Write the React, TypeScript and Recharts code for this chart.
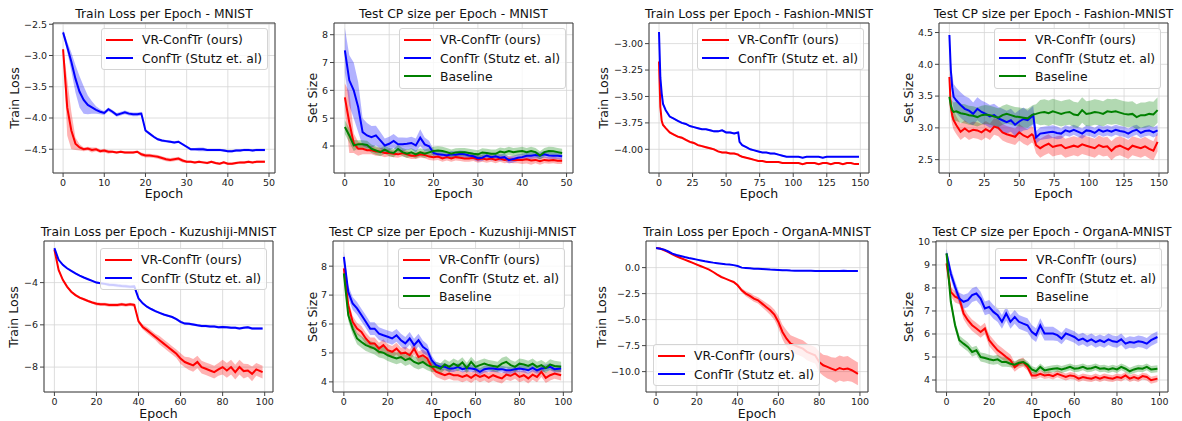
import React from 'react';
import {
  ComposedChart,
  Line,
  Area,
  XAxis,
  YAxis,
  CartesianGrid,
  ReferenceArea,
} from 'recharts';

const FONT = '"DejaVu Sans", sans-serif';
const RED = '#ff0000';
const BLUE = '#0000ff';
const GREEN = '#008000';

const LBL_VR = 'VR-ConfTr (ours)';
const LBL_CT = 'ConfTr (Stutz et. al)';
const LBL_BL = 'Baseline';

// epochs sampled per panel
const EPOCHS_50 = Array.from({ length: 50 }, (_, i) => i);
const EPOCHS_150 = [0, 1, 2, 3, 5, 8, 11, 14, 17, 20, 23, 26, 29, 32, 35, 38, 41, 44, 47, 50, 53, 56, 59, 60, 62, 65, 68, 71, 74, 77, 80, 83, 86, 89, 92, 95, 98, 101, 104, 107, 110, 113, 116, 119, 122, 125, 128, 131, 134, 137, 140, 143, 146, 149];
const EPOCHS_100 = [0, 2, 4, 6, 8, 10, 12, 14, 16, 18, 20, 22, 24, 26, 28, 30, 32, 34, 36, 38, 40, 42, 44, 46, 48, 50, 52, 54, 56, 58, 60, 62, 64, 66, 68, 70, 72, 74, 76, 78, 80, 82, 84, 86, 88, 90, 92, 94, 96, 99];

// --- MNIST train loss
const mnistLossVR = [-2.90, -3.83, -4.20, -4.41, -4.47, -4.50, -4.49, -4.51, -4.50, -4.53, -4.52, -4.54, -4.54, -4.55, -4.54, -4.55, -4.55, -4.55, -4.54, -4.58, -4.60, -4.60, -4.61, -4.62, -4.64, -4.66, -4.67, -4.66, -4.65, -4.68, -4.70, -4.70, -4.71, -4.70, -4.71, -4.72, -4.70, -4.72, -4.73, -4.71, -4.73, -4.73, -4.72, -4.71, -4.71, -4.70, -4.71, -4.70, -4.70, -4.70];
const mnistLossVRSd = [0.02, 0.45, 0.3, 0.1, 0.05, 0.03, 0.03, 0.04, 0.03, 0.03, 0.03, 0.03, 0.02, 0.02, 0.02, 0.02, 0.02, 0.02, 0.02, 0.03, 0.03, 0.03, 0.03, 0.03, 0.03, 0.03, 0.03, 0.03, 0.03, 0.03, 0.02, 0.02, 0.02, 0.02, 0.02, 0.02, 0.02, 0.02, 0.02, 0.02, 0.02, 0.02, 0.02, 0.02, 0.02, 0.02, 0.02, 0.02, 0.02, 0.02];
const mnistLossCT = [-2.63, -2.86, -3.10, -3.37, -3.58, -3.71, -3.79, -3.83, -3.87, -3.90, -3.92, -3.86, -3.90, -3.95, -3.93, -3.91, -3.93, -3.94, -3.94, -3.93, -4.20, -4.25, -4.30, -4.34, -4.36, -4.37, -4.38, -4.39, -4.38, -4.42, -4.46, -4.50, -4.50, -4.50, -4.50, -4.51, -4.51, -4.51, -4.51, -4.52, -4.53, -4.53, -4.52, -4.52, -4.51, -4.51, -4.52, -4.51, -4.51, -4.51];
const mnistLossCTSd = [0.04, 0.08, 0.15, 0.22, 0.25, 0.22, 0.15, 0.1, 0.06, 0.04, 0.03, 0.03, 0.03, 0.03, 0.03, 0.03, 0.03, 0.03, 0.03, 0.03, 0.02, 0.02, 0.02, 0.02, 0.02, 0.02, 0.02, 0.02, 0.02, 0.02, 0.02, 0.02, 0.02, 0.03, 0.03, 0.02, 0.02, 0.02, 0.02, 0.02, 0.02, 0.02, 0.02, 0.02, 0.02, 0.02, 0.02, 0.02, 0.02, 0.02];

// --- MNIST test CP size
const mnistSizeVR = [5.75, 4.85, 4.10, 3.90, 3.90, 3.85, 3.85, 3.80, 3.80, 3.75, 3.75, 3.72, 3.70, 3.75, 3.70, 3.65, 3.65, 3.70, 3.68, 3.62, 3.60, 3.62, 3.55, 3.60, 3.55, 3.60, 3.58, 3.55, 3.55, 3.58, 3.52, 3.55, 3.52, 3.55, 3.50, 3.55, 3.50, 3.52, 3.50, 3.50, 3.50, 3.52, 3.48, 3.50, 3.45, 3.50, 3.48, 3.50, 3.47, 3.47];
const mnistSizeVRSd = [0.5, 1.1, 0.35, 0.25, 0.2, 0.15, 0.15, 0.15, 0.15, 0.15, 0.12, 0.12, 0.12, 0.12, 0.12, 0.12, 0.12, 0.12, 0.12, 0.12, 0.12, 0.12, 0.12, 0.12, 0.12, 0.12, 0.12, 0.12, 0.12, 0.12, 0.12, 0.12, 0.12, 0.12, 0.12, 0.12, 0.12, 0.12, 0.12, 0.12, 0.15, 0.15, 0.15, 0.12, 0.12, 0.12, 0.12, 0.12, 0.12, 0.12];
const mnistSizeCT = [7.44, 6.36, 6.00, 5.40, 4.50, 4.38, 4.32, 4.38, 4.20, 4.02, 4.08, 4.18, 4.06, 4.06, 4.08, 4.11, 4.02, 4.30, 4.06, 3.99, 3.75, 3.70, 3.69, 3.66, 3.70, 3.69, 3.72, 3.70, 3.66, 3.63, 3.56, 3.58, 3.66, 3.60, 3.63, 3.58, 3.60, 3.49, 3.53, 3.58, 3.60, 3.65, 3.65, 3.68, 3.65, 3.70, 3.66, 3.65, 3.65, 3.63];
const mnistSizeCTSd = [0.8, 0.9, 1.0, 0.9, 0.5, 0.45, 0.4, 0.35, 0.3, 0.25, 0.25, 0.25, 0.25, 0.25, 0.22, 0.22, 0.25, 0.3, 0.25, 0.2, 0.12, 0.12, 0.12, 0.12, 0.12, 0.12, 0.12, 0.12, 0.12, 0.12, 0.12, 0.12, 0.12, 0.12, 0.12, 0.12, 0.12, 0.12, 0.12, 0.12, 0.12, 0.12, 0.12, 0.12, 0.12, 0.12, 0.12, 0.12, 0.12, 0.12];
const mnistSizeBL = [4.68, 4.38, 4.02, 4.06, 4.06, 4.04, 3.90, 3.84, 3.78, 3.87, 3.78, 3.75, 3.89, 3.78, 3.72, 3.77, 3.70, 3.77, 3.72, 3.77, 3.82, 3.84, 3.82, 3.78, 3.72, 3.77, 3.78, 3.78, 3.75, 3.72, 3.70, 3.77, 3.75, 3.72, 3.72, 3.80, 3.77, 3.82, 3.78, 3.80, 3.82, 3.78, 3.82, 3.78, 3.66, 3.78, 3.82, 3.81, 3.78, 3.75];
const mnistSizeBLSd = [0.25, 0.25, 0.2, 0.15, 0.15, 0.15, 0.15, 0.15, 0.15, 0.15, 0.15, 0.15, 0.15, 0.15, 0.15, 0.15, 0.15, 0.15, 0.15, 0.15, 0.15, 0.15, 0.15, 0.15, 0.15, 0.15, 0.15, 0.15, 0.15, 0.15, 0.15, 0.15, 0.15, 0.15, 0.15, 0.15, 0.15, 0.15, 0.15, 0.15, 0.15, 0.15, 0.15, 0.15, 0.15, 0.15, 0.15, 0.15, 0.15, 0.15];

// --- Fashion-MNIST train loss
const fashionLossVR = [-3.17, -3.60, -3.73, -3.77, -3.80, -3.84, -3.86, -3.88, -3.89, -3.91, -3.93, -3.94, -3.96, -3.97, -3.98, -3.99, -4.00, -4.02, -4.03, -4.03, -4.04, -4.04, -4.05, -4.06, -4.07, -4.08, -4.09, -4.10, -4.11, -4.11, -4.12, -4.12, -4.12, -4.12, -4.13, -4.13, -4.13, -4.13, -4.13, -4.14, -4.13, -4.13, -4.13, -4.14, -4.13, -4.13, -4.14, -4.13, -4.13, -4.14, -4.13, -4.13, -4.14, -4.14];
const fashionLossVRSd = [0.005, 0.01, 0.01, 0.01, 0.01, 0.01, 0.01, 0.01, 0.012, 0.012, 0.012, 0.012, 0.01, 0.01, 0.01, 0.01, 0.01, 0.01, 0.01, 0.01, 0.01, 0.01, 0.01, 0.01, 0.01, 0.008, 0.008, 0.008, 0.008, 0.008, 0.008, 0.008, 0.008, 0.008, 0.008, 0.008, 0.008, 0.008, 0.008, 0.008, 0.008, 0.008, 0.008, 0.008, 0.008, 0.008, 0.008, 0.008, 0.008, 0.008, 0.008, 0.008, 0.008, 0.008];
const fashionLossCT = [-2.89, -3.32, -3.47, -3.57, -3.63, -3.69, -3.71, -3.73, -3.75, -3.76, -3.78, -3.79, -3.80, -3.81, -3.81, -3.82, -3.83, -3.83, -3.82, -3.84, -3.84, -3.85, -3.84, -3.93, -3.96, -3.98, -4.00, -4.01, -4.02, -4.03, -4.03, -4.04, -4.04, -4.05, -4.06, -4.07, -4.07, -4.07, -4.07, -4.08, -4.07, -4.07, -4.07, -4.07, -4.08, -4.07, -4.07, -4.07, -4.07, -4.07, -4.07, -4.07, -4.07, -4.07];
const fashionLossCTSd = [0.005, 0.008, 0.008, 0.008, 0.008, 0.008, 0.008, 0.008, 0.008, 0.008, 0.008, 0.008, 0.008, 0.008, 0.008, 0.01, 0.01, 0.01, 0.01, 0.01, 0.01, 0.01, 0.01, 0.01, 0.008, 0.008, 0.008, 0.008, 0.008, 0.008, 0.008, 0.008, 0.008, 0.008, 0.008, 0.006, 0.006, 0.006, 0.006, 0.006, 0.006, 0.006, 0.006, 0.006, 0.006, 0.006, 0.006, 0.006, 0.006, 0.006, 0.006, 0.006, 0.006, 0.006];

// --- Fashion-MNIST test CP size
const fashionSizeVR = [3.80, 3.33, 3.20, 3.12, 3.04, 2.94, 2.99, 2.94, 2.97, 2.96, 2.93, 2.98, 2.94, 3.02, 3.00, 2.93, 2.90, 2.88, 2.86, 2.93, 2.88, 2.85, 2.90, 2.88, 2.73, 2.68, 2.72, 2.75, 2.70, 2.72, 2.73, 2.68, 2.70, 2.72, 2.70, 2.74, 2.72, 2.70, 2.68, 2.73, 2.70, 2.71, 2.64, 2.70, 2.72, 2.69, 2.66, 2.72, 2.70, 2.68, 2.71, 2.67, 2.64, 2.78];
const fashionSizeVRSd = [0.1, 0.15, 0.15, 0.15, 0.14, 0.13, 0.13, 0.13, 0.13, 0.13, 0.13, 0.13, 0.13, 0.13, 0.13, 0.13, 0.13, 0.13, 0.13, 0.13, 0.13, 0.13, 0.13, 0.13, 0.13, 0.15, 0.15, 0.15, 0.15, 0.15, 0.15, 0.15, 0.15, 0.15, 0.15, 0.15, 0.15, 0.15, 0.15, 0.15, 0.15, 0.15, 0.15, 0.15, 0.15, 0.15, 0.15, 0.15, 0.15, 0.15, 0.15, 0.15, 0.15, 0.15];
const fashionSizeCT = [4.46, 3.91, 3.64, 3.49, 3.43, 3.36, 3.30, 3.27, 3.22, 3.30, 3.25, 3.22, 3.18, 3.20, 3.15, 3.12, 3.09, 3.12, 3.05, 3.10, 3.14, 3.12, 3.18, 3.20, 2.85, 2.91, 2.92, 2.93, 2.94, 2.92, 2.91, 2.96, 2.94, 2.97, 2.94, 2.91, 2.96, 2.95, 2.92, 2.97, 2.94, 2.96, 2.94, 2.97, 2.95, 2.94, 2.91, 2.95, 2.97, 2.92, 2.95, 2.96, 2.93, 2.96];
const fashionSizeCTSd = [0.05, 0.15, 0.2, 0.2, 0.2, 0.2, 0.2, 0.2, 0.18, 0.18, 0.18, 0.18, 0.18, 0.18, 0.18, 0.18, 0.18, 0.18, 0.18, 0.18, 0.18, 0.15, 0.15, 0.15, 0.1, 0.1, 0.1, 0.1, 0.1, 0.1, 0.08, 0.08, 0.08, 0.08, 0.08, 0.08, 0.08, 0.08, 0.08, 0.08, 0.08, 0.08, 0.08, 0.08, 0.08, 0.08, 0.08, 0.08, 0.08, 0.08, 0.08, 0.08, 0.08, 0.08];
const fashionSizeBL = [3.49, 3.35, 3.28, 3.25, 3.26, 3.23, 3.22, 3.20, 3.19, 3.17, 3.20, 3.21, 3.20, 3.18, 3.16, 3.20, 3.22, 3.20, 3.18, 3.17, 3.16, 3.15, 3.20, 3.21, 3.22, 3.24, 3.25, 3.23, 3.26, 3.24, 3.22, 3.24, 3.25, 3.21, 3.20, 3.28, 3.22, 3.23, 3.25, 3.24, 3.22, 3.26, 3.25, 3.26, 3.24, 3.22, 3.21, 3.22, 3.17, 3.20, 3.20, 3.22, 3.21, 3.28];
const fashionSizeBLSd = [0.05, 0.1, 0.15, 0.15, 0.15, 0.15, 0.15, 0.15, 0.15, 0.15, 0.15, 0.15, 0.15, 0.15, 0.15, 0.15, 0.15, 0.15, 0.15, 0.15, 0.15, 0.15, 0.15, 0.15, 0.15, 0.2, 0.2, 0.2, 0.2, 0.2, 0.2, 0.2, 0.2, 0.2, 0.2, 0.2, 0.2, 0.2, 0.2, 0.2, 0.2, 0.2, 0.2, 0.2, 0.2, 0.2, 0.2, 0.2, 0.2, 0.2, 0.2, 0.2, 0.2, 0.2];

// --- Kuzushiji-MNIST train loss
const kmnistLossVR = [-2.44, -3.40, -3.87, -4.19, -4.43, -4.59, -4.71, -4.79, -4.87, -4.94, -5.00, -5.03, -5.03, -5.06, -5.06, -5.06, -5.03, -5.06, -5.03, -5.06, -5.83, -6.10, -6.25, -6.41, -6.57, -6.73, -6.89, -7.05, -7.21, -7.37, -7.60, -7.76, -7.84, -7.92, -7.76, -8.00, -8.08, -8.16, -8.24, -8.11, -8.00, -8.16, -8.00, -8.24, -8.00, -8.19, -8.16, -8.32, -8.11, -8.24];
const kmnistLossVRSd = [0.03, 0.06, 0.06, 0.06, 0.06, 0.06, 0.06, 0.06, 0.06, 0.06, 0.08, 0.08, 0.08, 0.08, 0.08, 0.08, 0.08, 0.08, 0.08, 0.08, 0.1, 0.12, 0.15, 0.15, 0.15, 0.2, 0.2, 0.2, 0.2, 0.2, 0.25, 0.25, 0.3, 0.3, 0.3, 0.3, 0.3, 0.3, 0.3, 0.3, 0.35, 0.35, 0.35, 0.35, 0.35, 0.35, 0.3, 0.35, 0.3, 0.3];
const kmnistLossCT = [-2.37, -2.92, -3.16, -3.32, -3.44, -3.56, -3.67, -3.76, -3.84, -3.92, -4.00, -4.03, -4.06, -4.10, -4.11, -4.14, -4.16, -4.17, -4.20, -4.18, -4.75, -4.98, -5.14, -5.25, -5.35, -5.43, -5.51, -5.57, -5.63, -5.73, -5.86, -5.94, -5.95, -5.98, -6.02, -6.05, -6.05, -6.08, -6.08, -6.11, -6.10, -6.11, -6.14, -6.14, -6.17, -6.14, -6.12, -6.17, -6.17, -6.17];
const kmnistLossCTSd = [0.03, 0.04, 0.04, 0.04, 0.04, 0.04, 0.04, 0.04, 0.04, 0.04, 0.05, 0.05, 0.06, 0.08, 0.08, 0.08, 0.08, 0.08, 0.08, 0.08, 0.05, 0.05, 0.05, 0.05, 0.05, 0.05, 0.05, 0.05, 0.05, 0.05, 0.06, 0.06, 0.06, 0.06, 0.06, 0.06, 0.06, 0.06, 0.06, 0.06, 0.06, 0.06, 0.06, 0.06, 0.06, 0.06, 0.06, 0.06, 0.06, 0.06];

// --- Kuzushiji-MNIST test CP size
const kmnistSizeVR = [7.92, 6.65, 6.08, 5.84, 5.73, 5.50, 5.33, 5.33, 5.15, 5.27, 5.10, 5.04, 5.15, 4.98, 5.01, 4.92, 5.15, 4.86, 4.92, 4.81, 4.52, 4.35, 4.29, 4.23, 4.29, 4.23, 4.23, 4.17, 4.23, 4.14, 4.25, 4.17, 4.23, 4.14, 4.23, 4.17, 4.12, 4.25, 4.21, 4.29, 4.17, 4.23, 4.12, 4.25, 4.17, 4.35, 4.14, 4.23, 4.29, 4.23];
const kmnistSizeVRSd = [0.3, 0.2, 0.2, 0.2, 0.2, 0.2, 0.2, 0.2, 0.2, 0.2, 0.2, 0.2, 0.2, 0.2, 0.2, 0.2, 0.2, 0.2, 0.2, 0.2, 0.18, 0.18, 0.18, 0.18, 0.18, 0.18, 0.18, 0.18, 0.18, 0.18, 0.18, 0.18, 0.18, 0.18, 0.18, 0.18, 0.18, 0.18, 0.18, 0.18, 0.18, 0.18, 0.18, 0.18, 0.18, 0.18, 0.18, 0.18, 0.18, 0.18];
const kmnistSizeCT = [8.32, 7.11, 6.71, 6.54, 6.31, 6.08, 5.84, 5.84, 5.67, 5.61, 5.56, 5.50, 5.61, 5.44, 5.33, 5.50, 5.27, 5.44, 5.21, 5.10, 4.75, 4.58, 4.52, 4.52, 4.46, 4.46, 4.52, 4.44, 4.48, 4.46, 4.44, 4.35, 4.44, 4.46, 4.46, 4.44, 4.44, 4.40, 4.40, 4.44, 4.46, 4.44, 4.40, 4.48, 4.40, 4.46, 4.48, 4.52, 4.44, 4.46];
const kmnistSizeCTSd = [0.2, 0.22, 0.22, 0.22, 0.22, 0.22, 0.22, 0.22, 0.22, 0.22, 0.22, 0.22, 0.22, 0.22, 0.22, 0.22, 0.22, 0.22, 0.22, 0.2, 0.15, 0.12, 0.12, 0.12, 0.12, 0.12, 0.12, 0.12, 0.12, 0.12, 0.12, 0.12, 0.12, 0.12, 0.12, 0.12, 0.12, 0.12, 0.12, 0.12, 0.12, 0.12, 0.12, 0.12, 0.12, 0.12, 0.12, 0.12, 0.12, 0.12];
const kmnistSizeBL = [7.75, 6.31, 5.84, 5.50, 5.38, 5.27, 5.21, 5.15, 5.04, 5.01, 4.92, 4.86, 4.81, 4.86, 4.75, 4.81, 4.69, 4.63, 4.69, 4.58, 4.52, 4.52, 4.46, 4.60, 4.52, 4.63, 4.55, 4.67, 4.48, 4.69, 4.52, 4.58, 4.63, 4.58, 4.55, 4.52, 4.63, 4.69, 4.58, 4.52, 4.63, 4.60, 4.55, 4.63, 4.52, 4.58, 4.48, 4.60, 4.55, 4.52];
const kmnistSizeBLSd = [0.2, 0.2, 0.2, 0.2, 0.2, 0.2, 0.2, 0.2, 0.2, 0.2, 0.2, 0.2, 0.2, 0.2, 0.2, 0.2, 0.2, 0.2, 0.2, 0.18, 0.18, 0.18, 0.18, 0.18, 0.18, 0.18, 0.18, 0.18, 0.18, 0.18, 0.18, 0.18, 0.18, 0.18, 0.18, 0.18, 0.2, 0.2, 0.18, 0.18, 0.18, 0.18, 0.18, 0.18, 0.18, 0.18, 0.18, 0.18, 0.18, 0.18];

// --- OrganA-MNIST train loss
const organLossVR = [1.89, 1.83, 1.67, 1.50, 1.28, 1.09, 0.93, 0.77, 0.61, 0.45, 0.29, 0.13, -0.03, -0.19, -0.42, -0.67, -0.90, -1.06, -1.22, -1.38, -1.70, -2.18, -2.50, -2.72, -2.98, -3.14, -3.46, -3.78, -4.10, -4.52, -5.22, -6.19, -6.83, -7.31, -7.47, -7.63, -7.79, -8.10, -8.27, -8.43, -9.07, -9.39, -9.55, -9.71, -9.87, -9.65, -9.78, -9.71, -9.87, -10.22];
const organLossVRSd = [0.05, 0.05, 0.05, 0.05, 0.05, 0.05, 0.05, 0.05, 0.05, 0.05, 0.05, 0.05, 0.05, 0.05, 0.05, 0.05, 0.05, 0.05, 0.05, 0.08, 0.15, 0.2, 0.25, 0.3, 0.3, 0.3, 0.35, 0.4, 0.45, 0.5, 0.6, 0.7, 0.8, 0.8, 0.8, 0.8, 0.8, 0.8, 0.8, 0.8, 1.0, 1.0, 1.1, 1.1, 1.2, 1.2, 1.2, 1.2, 1.1, 1.1];
const organLossCT = [1.89, 1.82, 1.73, 1.55, 1.35, 1.22, 1.12, 1.02, 0.93, 0.85, 0.77, 0.69, 0.61, 0.55, 0.48, 0.43, 0.38, 0.33, 0.29, 0.24, 0.16, 0.00, -0.03, -0.06, -0.10, -0.12, -0.14, -0.16, -0.19, -0.21, -0.23, -0.25, -0.26, -0.28, -0.29, -0.30, -0.30, -0.31, -0.31, -0.32, -0.32, -0.32, -0.32, -0.32, -0.32, -0.32, -0.31, -0.32, -0.32, -0.32];
const organLossCTSd = [0.04, 0.04, 0.04, 0.04, 0.04, 0.04, 0.04, 0.04, 0.04, 0.04, 0.04, 0.04, 0.04, 0.04, 0.04, 0.04, 0.04, 0.04, 0.04, 0.04, 0.04, 0.04, 0.04, 0.04, 0.04, 0.04, 0.04, 0.04, 0.04, 0.04, 0.04, 0.04, 0.04, 0.04, 0.04, 0.04, 0.04, 0.04, 0.04, 0.04, 0.04, 0.04, 0.04, 0.04, 0.04, 0.04, 0.04, 0.04, 0.04, 0.04];

// --- OrganA-MNIST test CP size
const organSizeVR = [9.07, 7.83, 7.62, 7.54, 6.89, 6.60, 6.38, 6.24, 6.09, 6.24, 5.73, 5.51, 5.29, 5.15, 5.00, 4.86, 4.56, 4.71, 4.78, 4.56, 4.20, 4.20, 4.27, 4.20, 4.23, 4.17, 4.27, 4.20, 4.13, 4.20, 4.17, 4.06, 4.13, 4.09, 4.06, 4.13, 4.06, 4.13, 4.09, 4.06, 4.13, 4.09, 4.20, 4.06, 4.13, 4.06, 4.17, 4.13, 3.99, 4.06];
const organSizeVRSd = [0.15, 0.2, 0.25, 0.25, 0.25, 0.25, 0.25, 0.25, 0.25, 0.25, 0.25, 0.25, 0.25, 0.25, 0.25, 0.25, 0.2, 0.2, 0.2, 0.15, 0.15, 0.15, 0.15, 0.15, 0.15, 0.15, 0.15, 0.15, 0.15, 0.15, 0.15, 0.15, 0.15, 0.15, 0.15, 0.15, 0.15, 0.15, 0.15, 0.15, 0.15, 0.15, 0.15, 0.15, 0.15, 0.15, 0.15, 0.15, 0.15, 0.15];
const organSizeCT = [9.50, 8.63, 8.05, 7.54, 7.40, 7.47, 7.69, 7.76, 7.54, 7.11, 7.18, 6.96, 6.82, 6.53, 6.89, 6.53, 6.74, 6.53, 6.45, 6.38, 6.09, 5.95, 6.38, 6.02, 6.02, 6.02, 5.95, 5.80, 6.02, 5.95, 5.87, 5.73, 5.80, 5.68, 5.77, 5.65, 5.73, 5.65, 5.77, 5.68, 5.65, 5.77, 5.58, 5.65, 5.62, 5.68, 5.65, 5.58, 5.73, 5.87];
const organSizeCTSd = [0.2, 0.25, 0.25, 0.25, 0.3, 0.3, 0.3, 0.3, 0.3, 0.3, 0.3, 0.3, 0.3, 0.3, 0.3, 0.3, 0.3, 0.3, 0.3, 0.3, 0.3, 0.3, 0.3, 0.3, 0.3, 0.3, 0.25, 0.25, 0.25, 0.25, 0.25, 0.25, 0.25, 0.25, 0.25, 0.25, 0.25, 0.25, 0.25, 0.25, 0.25, 0.25, 0.25, 0.25, 0.25, 0.25, 0.25, 0.25, 0.25, 0.25];
const organSizeBL = [9.50, 7.40, 6.38, 5.73, 5.58, 5.44, 5.22, 5.29, 5.00, 4.96, 4.90, 4.86, 4.90, 4.78, 4.78, 4.71, 4.67, 4.75, 4.78, 4.67, 4.46, 4.38, 4.57, 4.42, 4.46, 4.49, 4.51, 4.46, 4.51, 4.57, 4.49, 4.51, 4.57, 4.49, 4.51, 4.57, 4.49, 4.51, 4.46, 4.51, 4.46, 4.57, 4.49, 4.38, 4.46, 4.51, 4.49, 4.57, 4.46, 4.49];
const organSizeBLSd = [0.1, 0.2, 0.2, 0.2, 0.2, 0.2, 0.2, 0.2, 0.2, 0.2, 0.2, 0.2, 0.2, 0.2, 0.2, 0.15, 0.15, 0.15, 0.15, 0.15, 0.15, 0.15, 0.15, 0.15, 0.15, 0.15, 0.15, 0.15, 0.15, 0.15, 0.15, 0.15, 0.15, 0.15, 0.15, 0.15, 0.15, 0.15, 0.15, 0.15, 0.15, 0.15, 0.15, 0.15, 0.15, 0.15, 0.15, 0.15, 0.15, 0.15];

// tick lists
const TICKS_X50 = [0, 10, 20, 30, 40, 50];
const TICKS_X150 = [0, 25, 50, 75, 100, 125, 150];
const TICKS_X100 = [0, 20, 40, 60, 80, 100];

type Series = { name: string; color: string; values: number[]; spread: number[] };
type Box = { x: number; y: number; w: number; h: number };
type PanelDef = {
  title: string;
  ylabel: string;
  epochs: number[];
  series: Series[];
  xDomain: [number, number];
  xTicks: number[];
  yDomain: [number, number];
  yTicks: number[];
  yDigits: number;
  box: Box;
  legend: { x: number; y: number };
  ylabelX: number;
  titleY: number;
  xlabelY: number;
};

const vr = (values: number[], spread: number[]): Series => ({ name: LBL_VR, color: RED, values, spread });
const ct = (values: number[], spread: number[]): Series => ({ name: LBL_CT, color: BLUE, values, spread });
const bl = (values: number[], spread: number[]): Series => ({ name: LBL_BL, color: GREEN, values, spread });

const PANELS: PanelDef[] = [
  {
    title: 'Train Loss per Epoch - MNIST', ylabel: 'Train Loss', epochs: EPOCHS_50,
    series: [vr(mnistLossVR, mnistLossVRSd), ct(mnistLossCT, mnistLossCTSd)],
    xDomain: [-2.45, 51.45], xTicks: TICKS_X50, yDomain: [-4.88, -2.48], yTicks: [-4.5, -4.0, -3.5, -3.0, -2.5], yDigits: 1,
    box: { x: 53, y: 23, w: 222, h: 150 }, legend: { x: 101, y: 28 }, ylabelX: 14, titleY: 14, xlabelY: 193,
  },
  {
    title: 'Test CP size per Epoch - MNIST', ylabel: 'Set Size', epochs: EPOCHS_50,
    series: [vr(mnistSizeVR, mnistSizeVRSd), ct(mnistSizeCT, mnistSizeCTSd), bl(mnistSizeBL, mnistSizeBLSd)],
    xDomain: [-2.45, 51.45], xTicks: TICKS_X50, yDomain: [3.03, 8.42], yTicks: [4, 5, 6, 7, 8], yDigits: 0,
    box: { x: 334, y: 23, w: 239, h: 150 }, legend: { x: 399, y: 28 }, ylabelX: 312, titleY: 14, xlabelY: 193,
  },
  {
    title: 'Train Loss per Epoch - Fashion-MNIST', ylabel: 'Train Loss', epochs: EPOCHS_150,
    series: [vr(fashionLossVR, fashionLossVRSd), ct(fashionLossCT, fashionLossCTSd)],
    xDomain: [-7.45, 156.45], xTicks: TICKS_X150, yDomain: [-4.224, -2.805], yTicks: [-4.0, -3.75, -3.5, -3.25, -3.0], yDigits: 2,
    box: { x: 649, y: 23, w: 220, h: 150 }, legend: { x: 697, y: 28 }, ylabelX: 603, titleY: 14, xlabelY: 193,
  },
  {
    title: 'Test CP size per Epoch - Fashion-MNIST', ylabel: 'Set Size', epochs: EPOCHS_150,
    series: [vr(fashionSizeVR, fashionSizeVRSd), ct(fashionSizeCT, fashionSizeCTSd), bl(fashionSizeBL, fashionSizeBLSd)],
    xDomain: [-7.45, 156.45], xTicks: TICKS_X150, yDomain: [2.29, 4.65], yTicks: [2.5, 3.0, 3.5, 4.0, 4.5], yDigits: 1,
    box: { x: 939, y: 23, w: 229, h: 150 }, legend: { x: 994, y: 28 }, ylabelX: 908, titleY: 14, xlabelY: 193,
  },
  {
    title: 'Train Loss per Epoch - Kuzushiji-MNIST', ylabel: 'Train Loss', epochs: EPOCHS_100,
    series: [vr(kmnistLossVR, kmnistLossVRSd), ct(kmnistLossCT, kmnistLossCTSd)],
    xDomain: [-4.95, 103.95], xTicks: TICKS_X100, yDomain: [-9.18, -2.03], yTicks: [-8, -6, -4], yDigits: 0,
    box: { x: 44, y: 241, w: 229, h: 151 }, legend: { x: 100, y: 248 }, ylabelX: 13, titleY: 232, xlabelY: 413,
  },
  {
    title: 'Test CP size per Epoch - Kuzushiji-MNIST', ylabel: 'Set Size', epochs: EPOCHS_100,
    series: [vr(kmnistSizeVR, kmnistSizeVRSd), ct(kmnistSizeCT, kmnistSizeCTSd), bl(kmnistSizeBL, kmnistSizeBLSd)],
    xDomain: [-4.95, 103.95], xTicks: TICKS_X100, yDomain: [3.65, 8.87], yTicks: [4, 5, 6, 7, 8], yDigits: 0,
    box: { x: 333, y: 241, w: 239, h: 151 }, legend: { x: 398, y: 248 }, ylabelX: 312, titleY: 232, xlabelY: 413,
  },
  {
    title: 'Train Loss per Epoch - OrganA-MNIST', ylabel: 'Train Loss', epochs: EPOCHS_100,
    series: [vr(organLossVR, organLossVRSd), ct(organLossCT, organLossCTSd)],
    xDomain: [-4.95, 103.95], xTicks: TICKS_X100, yDomain: [-11.96, 2.56], yTicks: [-10, -7.5, -5, -2.5, 0], yDigits: 1,
    box: { x: 646, y: 241, w: 222, h: 151 }, legend: { x: 653, y: 344 }, ylabelX: 601, titleY: 232, xlabelY: 413,
  },
  {
    title: 'Test CP size per Epoch - OrganA-MNIST', ylabel: 'Set Size', epochs: EPOCHS_100,
    series: [vr(organSizeVR, organSizeVRSd), ct(organSizeCT, organSizeCTSd), bl(organSizeBL, organSizeBLSd)],
    xDomain: [-4.95, 103.95], xTicks: TICKS_X100, yDomain: [3.48, 10.04], yTicks: [4, 5, 6, 7, 8, 9, 10], yDigits: 0,
    box: { x: 936, y: 241, w: 232, h: 151 }, legend: { x: 995, y: 248 }, ylabelX: 908, titleY: 232, xlabelY: 413,
  },
];

const fmt = (digits: number) => (v: number) => {
  const s = Math.abs(v).toFixed(digits);
  return v < -1e-9 ? '\u2212' + s : s;
};

const PAD_L = 60;
const PAD_T = 10;

function Panel({ p }: { p: PanelDef }) {
  const data = p.epochs.map((e, i) => {
    const row: Record<string, unknown> = { epoch: e };
    p.series.forEach((s, k) => {
      row['v' + k] = s.values[i];
      row['b' + k] = [s.values[i] - s.spread[i], s.values[i] + s.spread[i]];
    });
    return row;
  });
  const { box } = p;
  const tickStyle = { fontSize: 9.5, fill: '#222', fontFamily: FONT };

  return (
    <>
      <div style={{ position: 'absolute', left: box.x - PAD_L, top: box.y - PAD_T }}>
        <ComposedChart
          width={box.w + PAD_L + 10}
          height={box.h + PAD_T + 30}
          data={data}
          margin={{ top: PAD_T, right: 10, left: 0, bottom: 0 }}
        >
          <CartesianGrid stroke="#d6d6d6" strokeWidth={0.8} />
          <XAxis
            type="number"
            dataKey="epoch"
            domain={p.xDomain}
            ticks={p.xTicks}
            interval={0}
            allowDataOverflow
            axisLine={false}
            tickLine={{ stroke: '#444' }}
            tickSize={4}
            tickMargin={2}
            tick={tickStyle}
            height={30}
          />
          <YAxis
            type="number"
            domain={p.yDomain}
            ticks={p.yTicks}
            interval={0}
            allowDataOverflow
            axisLine={false}
            tickLine={{ stroke: '#444' }}
            tickSize={4}
            tickMargin={2}
            tick={tickStyle}
            tickFormatter={fmt(p.yDigits)}
            width={PAD_L}
          />
          {p.series.map((s, k) => [
            <Area
              key={'b' + k}
              type="linear"
              dataKey={'b' + k}
              stroke="none"
              fill={s.color}
              fillOpacity={0.3}
              isAnimationActive={false}
              dot={false}
              activeDot={false}
            />,
            <Line
              key={'v' + k}
              type="linear"
              dataKey={'v' + k}
              stroke={s.color}
              strokeWidth={2}
              dot={false}
              activeDot={false}
              isAnimationActive={false}
            />,
          ])}
          <ReferenceArea
            x1={p.xDomain[0]}
            x2={p.xDomain[1]}
            y1={p.yDomain[0]}
            y2={p.yDomain[1]}
            fill="none"
            fillOpacity={0}
            stroke="#3c3c3c"
            strokeWidth={1}
            ifOverflow="visible"
          />
        </ComposedChart>
      </div>

      {/* title */}
      <div
        style={{
          position: 'absolute',
          left: box.x + box.w / 2,
          top: p.titleY,
          transform: 'translate(-50%, -50%)',
          whiteSpace: 'nowrap',
          fontSize: 12.3,
          color: '#111',
          fontFamily: FONT,
        }}
      >
        {p.title}
      </div>

      {/* axis labels */}
      <div
        style={{
          position: 'absolute',
          left: box.x + box.w / 2,
          top: p.xlabelY,
          transform: 'translate(-50%, -50%)',
          whiteSpace: 'nowrap',
          fontSize: 12.5,
          color: '#111',
          fontFamily: FONT,
        }}
      >
        Epoch
      </div>
      <div
        style={{
          position: 'absolute',
          left: p.ylabelX,
          top: box.y + box.h / 2,
          transform: 'translate(-50%, -50%) rotate(-90deg)',
          whiteSpace: 'nowrap',
          fontSize: 12.5,
          color: '#111',
          fontFamily: FONT,
        }}
      >
        {p.ylabel}
      </div>

      {/* legend */}
      <div
        style={{
          position: 'absolute',
          left: p.legend.x,
          top: p.legend.y,
          width: 167,
          boxSizing: 'border-box',
          padding: '1.5px 0 2px 0',
          background: 'rgba(255,255,255,0.8)',
          border: '1px solid #d4d4d4',
          borderRadius: 3,
          fontFamily: FONT,
          fontSize: 12.4,
          color: '#111',
        }}
      >
        {p.series.map((s) => (
          <div key={s.name} style={{ display: 'flex', alignItems: 'center', height: 18.4 }}>
            <span style={{ display: 'inline-block', width: 27, height: 2, marginLeft: 4, background: s.color }} />
            <span style={{ marginLeft: 9, whiteSpace: 'nowrap' }}>{s.name}</span>
          </div>
        ))}
      </div>
    </>
  );
}

export default function App() {
  return (
    <div
      style={{
        position: 'absolute',
        left: 0,
        top: 0,
        width: 1182,
        height: 421,
        background: '#fff',
        overflow: 'hidden',
      }}
    >
      {PANELS.map((p) => (
        <Panel key={p.title} p={p} />
      ))}
    </div>
  );
}
